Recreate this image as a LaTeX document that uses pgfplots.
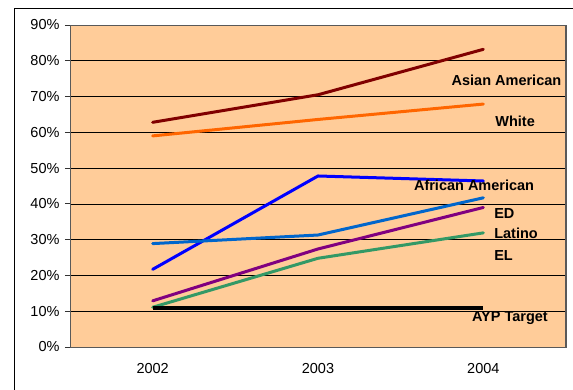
\documentclass[border=0pt]{standalone}
\usepackage{pgfplots}
\pgfplotsset{compat=1.18}
\usepackage{fontspec}
\setmainfont{Liberation Sans}
\definecolor{bgor}{HTML}{FFCC99}
\definecolor{asian}{HTML}{800000}
\definecolor{white}{HTML}{FF6600}
\definecolor{afam}{HTML}{0000FF}
\definecolor{edc}{HTML}{0066CC}
\definecolor{latc}{HTML}{800080}
\definecolor{elc}{HTML}{339966}
\begin{document}
\begin{tikzpicture}[x=1pt,y=1pt]
\useasboundingbox (0,0) rectangle (573,389);
\draw[black,line width=1pt] (14,-5) -- (14,380) -- (580,380);
\begin{axis}[
  at={(70pt,42pt)}, anchor=south west,
  scale only axis, width=496pt, height=322pt,
  xmin=-0.5, xmax=2.5, ymin=0, ymax=90,
  axis background/.style={fill=bgor},
  axis line style={draw=gray!70!black, line width=1pt},
  xtick pos=bottom, ytick pos=left,
  xtick={0,1,2}, xticklabels={2002,2003,2004},
  major x tick style={draw=none},
  extra x ticks={-0.5,0.5,1.5,2.5}, extra x tick labels={},
  extra x tick style={major tick length=5pt, tick align=outside, tick style={draw=black!80, line width=1pt}, grid=none},
  ytick={0,10,...,90},
  yticklabels={0\%,10\%,20\%,30\%,40\%,50\%,60\%,70\%,80\%,90\%},
  ytick style={draw=black!80, line width=0.8pt},
  major tick length=5pt, tick align=outside,
  ymajorgrids, grid style={black, line width=0.7pt},
  tick label style={font=\fontsize{14.5}{16}\selectfont},
  xticklabel style={yshift=-8pt},
  yticklabel style={xshift=-2pt},
  clip=false,
  every axis plot/.append style={line width=3pt, line join=round, line cap=round},
]
\addplot[asian] coordinates {(0,62.8) (1,70.5) (2,83.2)};
\addplot[white] coordinates {(0,59.0) (1,63.6) (2,67.9)};
\addplot[afam] coordinates {(0,21.7) (1,47.8) (2,46.4)};
\addplot[edc] coordinates {(0,28.9) (1,31.3) (2,41.7)};
\addplot[latc] coordinates {(0,12.9) (1,27.4) (2,39.0)};
\addplot[elc] coordinates {(0,11.1) (1,24.8) (2,31.9)};
\addplot[black, line width=4pt, line cap=butt] coordinates {(0,11) (1,11) (2,11)};
\draw[gray!70!black, line width=1.2pt] (rel axis cs:1,0) -- (rel axis cs:1,1);
\begin{scope}[every node/.style={font=\bfseries\fontsize{14.5}{16}\selectfont}]
\node at (axis cs:2.14,74.6) {Asian American};
\node at (axis cs:2.192,63.2) {White};
\node at (axis cs:1.944,45.3) {African American};
\node[anchor=west, inner sep=0pt] at (axis cs:2.065,37.2) {ED};
\node[anchor=west, inner sep=0pt] at (axis cs:2.065,31.9) {Latino};
\node[anchor=west, inner sep=0pt] at (axis cs:2.065,25.7) {EL};
\node at (axis cs:2.161,8.1) {AYP Target};
\end{scope}
\end{axis}
\end{tikzpicture}
\end{document}
